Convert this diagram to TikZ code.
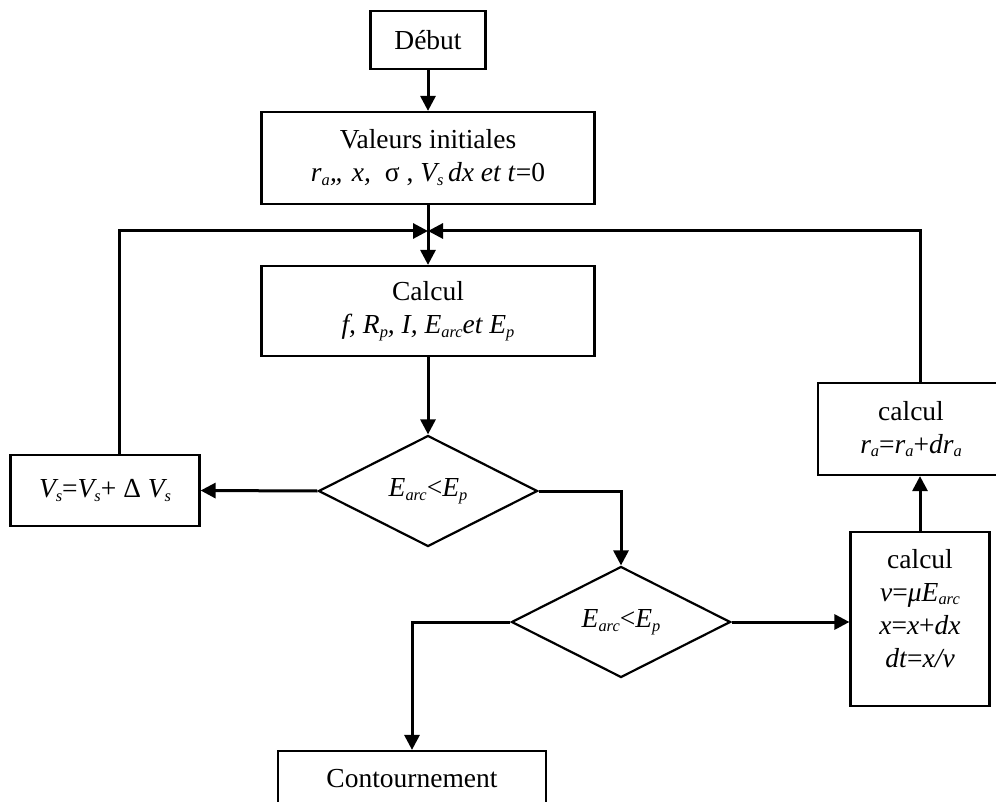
\documentclass[tikz,border=0pt]{standalone}
\usepackage{fontspec}
\setmainfont{Liberation Serif}
\usetikzlibrary{shapes.geometric,arrows.meta}
\newdimen\pxu \pxu=0.5pt
% small italic subscript as typed in the original flowchart
\newcommand\lo[1]{\raisebox{-0.28ex}{\fontsize{8.2pt}{8.2pt}\selectfont\itshape #1}}

\begin{document}
\begin{tikzpicture}[x=0.5pt,y=-0.5pt,
  every node/.style={font=\fontsize{13.75pt}{16.5pt}\selectfont, inner sep=0pt},
  box/.style={draw, line width=1.1pt, rectangle, align=center},
  test/.style={draw, line width=1.1pt, diamond, minimum width=219\pxu, minimum height=111\pxu},
  flow/.style={line width=1.5pt, -{Triangle[length=7.5pt,width=7.5pt]}},
  plain/.style={line width=1.5pt}]
\clip (0,0) rectangle (996,802);

% main column
\node[box, minimum width=115\pxu, minimum height=58\pxu] (debut) at (428,40) {Début};
\node[box, minimum width=333\pxu, minimum height=92\pxu] (init) at (428,158)
  {Valeurs initiales\\ \textit{r\lo{a},, x,}\ \ σ , \textit{V\lo{s}\,dx et t}=0};
\coordinate (J) at (428,231);
\node[box, minimum width=333\pxu, minimum height=90\pxu] (calc) at (428,311)
  {Calcul\\ \textit{f, R\lo{p}, I, E\lo{arc}et E\lo{p}}};
\node[test] (d1) at (428,491) {\textit{E\lo{arc}}<\textit{E\lo{p}}};
\node[box, minimum width=189\pxu, minimum height=71\pxu] (vs) at (105,490.5)
  {\textit{V\lo{s}}=\textit{V\lo{s}}+ Δ \textit{V\lo{s}}};
\node[test] (d2) at (621,622) {\textit{E\lo{arc}}<\textit{E\lo{p}}};
\node[box, minimum width=268\pxu, minimum height=56\pxu] (cont) at (412,779) {Contournement};

% right-hand branch
\node[box, minimum width=139\pxu, minimum height=174\pxu] (calcB) at (920,619) {};
\node[align=center] (calcBtext) at (920,608.5)
  {calcul\\ \textit{v}=\textit{μE\lo{arc}}\\ \textit{x}=\textit{x}+\textit{dx}\\ \textit{dt}=\textit{x/v}};
\node[box, minimum width=186\pxu, minimum height=92\pxu] (calcA) at (911,429)
  {calcul\\ \textit{r\lo{a}}=\textit{r\lo{a}}+\textit{dr\lo{a}}};

% connectors
\draw[flow] (debut) -- (init);
\draw[plain] (init) -- (J);
\draw[flow] (J) -- (calc);
\draw[flow] ([xshift=14\pxu]vs.north) |- (J);
\draw[flow] ([xshift=9\pxu]calcA.north) |- (J);
\draw[flow] (calc) -- (d1);
\draw[flow] (d1.west) -- (vs.east);
\draw[flow] (d1.east) -| (d2.north);
\draw[flow] (d2.east) -- (d2.east -| calcB.west);
\draw[flow] (d2.west) -| (cont.north);
\draw[flow] (calcB.north) -- (calcB.north |- calcA.south);
\end{tikzpicture}
\end{document}
